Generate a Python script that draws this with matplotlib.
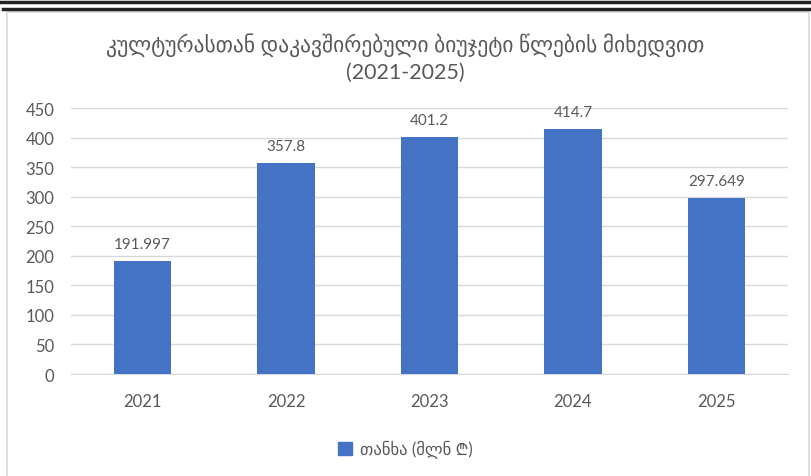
import matplotlib
matplotlib.use("Agg")
import matplotlib.pyplot as plt
from matplotlib.lines import Line2D
from matplotlib.patches import Rectangle

years = ["2021", "2022", "2023", "2024", "2025"]
budget = [191.997, 357.8, 401.2, 414.7, 297.649]
budget_labels = ["191.997", "357.8", "401.2", "414.7", "297.649"]
yticks = [0, 50, 100, 150, 200, 250, 300, 350, 400, 450]

title = "კულტურასთან დაკავშირებული ბიუჯეტი წლების მიხედვით\n(2021-2025)"
legend_label = "თანხა (მლნ ₾)"

BAR = "#4472C4"
TXT = "#595959"
GRID = "#D9D9D9"

# Lato for digits, DejaVu for Georgian, others as fallback for the lari sign
FAMILIES = ["Lato", "DejaVu Sans", "Noto Sans", "Roboto", "Open Sans",
            "Liberation Sans", "Noto Sans CJK SC"]
plt.rcParams["font.family"] = FAMILIES

W, H = 811, 477
fig = plt.figure(figsize=(W / 100, H / 100), dpi=100)

# frame decoration: double black rule on top, light grey chart border
fig.add_artist(Line2D([0, 1], [1 - 3 / H, 1 - 3 / H], color="#222222", lw=2.5))
fig.add_artist(Line2D([3 / W, 1], [1 - 10 / H, 1 - 10 / H], color="#222222", lw=2.5))
fig.add_artist(Rectangle((7 / W, -0.05), (809 - 7) / W, 1.05 - 13 / H,
                         fill=False, edgecolor="#D9D9D9", lw=1.2))

# plot area: x 71..788, y 109..375 (pixels from top)
ax = fig.add_axes([71 / W, 1 - 375 / H, (788 - 71) / W, (375 - 109) / H])
x = range(len(years))
ax.bar(x, budget, width=0.40, color=BAR, zorder=3)
for xi, v, lab in zip(x, budget, budget_labels):
    ax.annotate(lab, (xi, v), xytext=(0, 7), textcoords="offset points",
                ha="center", va="bottom", fontsize=11, color=TXT)

ax.set_xlim(-0.5, len(years) - 0.5)
ax.set_ylim(0, 450)
ax.set_yticks(yticks)
ax.set_xticks(list(x))
ax.set_xticklabels(years)
ax.tick_params(axis="both", length=0, labelsize=12, labelcolor=TXT)
ax.tick_params(axis="x", pad=14)
ax.tick_params(axis="y", pad=12)
ax.yaxis.grid(True, color=GRID, lw=1, zorder=0)
for s in ax.spines.values():
    s.set_visible(False)
ax.spines["bottom"].set_visible(True)
ax.spines["bottom"].set_color(GRID)

fig.text(0.5, 1 - 58 / H, title, ha="center", va="center", fontsize=15.5,
         color=TXT, linespacing=1.35)

fig.legend([Rectangle((0, 0), 1, 1, color=BAR)], [legend_label],
           loc="center", bbox_to_anchor=(0.5, 1 - 450 / H), frameon=False,
           prop={"family": FAMILIES, "size": 12}, labelcolor=TXT,
           handlelength=0.8, handleheight=0.8, handletextpad=0.5)

fig.savefig("out.png", dpi=100)
